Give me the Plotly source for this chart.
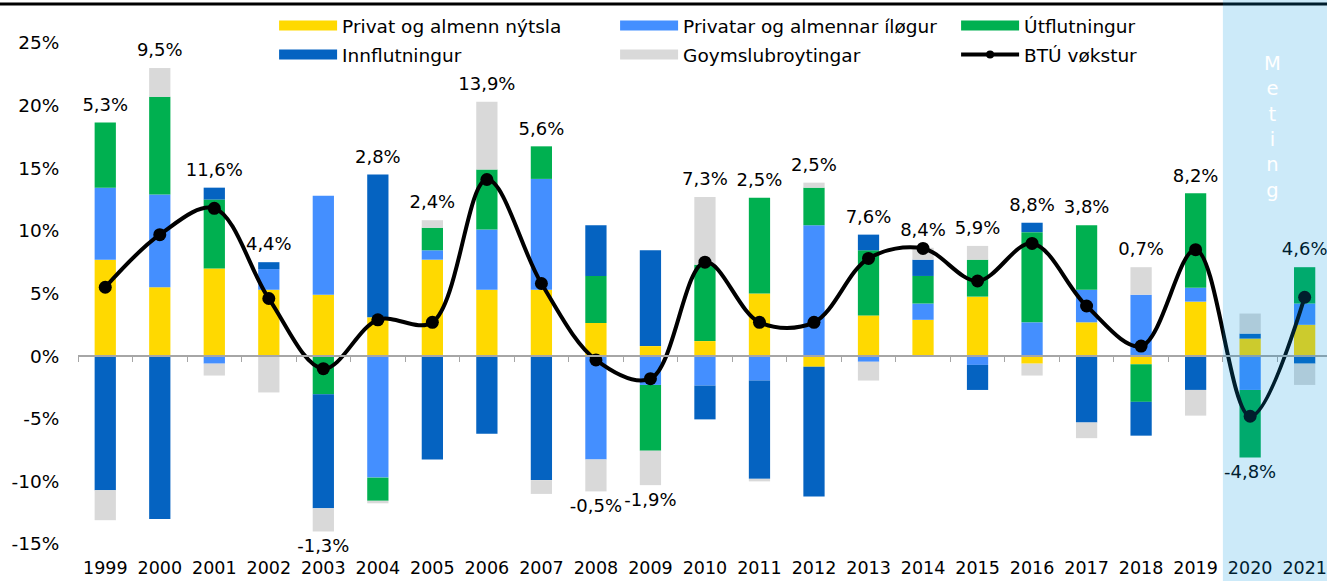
import plotly.graph_objects as go

# ---------------- data ----------------
years = [str(y) for y in range(1999, 2022)]

privat_nytsla = [7.7, 5.5, 7.0, 5.3, 4.9, 3.1, 7.7, 5.3, 5.3, 2.65, 0.8, 1.2,
                 5.0, -0.85, 3.25, 2.9, 4.75, -0.6, 2.7, -0.65, 4.35, 1.4, 2.5]
privat_ilogur = [5.75, 7.4, -0.6, 1.65, 7.9, -9.7, 0.75, 4.8, 8.85, -8.25, -2.3, -2.35,
                 -1.95, 10.45, -0.45, 1.3, -0.7, 2.7, 2.6, 4.9, 1.1, -2.7, 1.7]
utflutningur = [5.2, 7.8, 5.5, 0.0, -3.05, -1.85, 1.8, 4.8, 2.6, 3.75, -5.25, 6.1,
                7.65, 3.0, 5.2, 2.2, 2.95, 7.2, 5.15, -3.0, 7.55, -5.4, 2.9]
innflutningur = [-10.7, -13.0, 0.95, 0.55, -9.1, 11.4, -8.25, -6.2, -9.9, 4.05, 7.65, -2.7,
                 -7.85, -10.35, 1.25, 1.3, -2.0, 0.75, -5.3, -2.7, -2.7, 0.4, -0.6]
goymslubroytingar = [-2.4, 2.3, -0.95, -2.9, -1.85, -0.2, 0.6, 5.4, -1.1, -2.55, -2.75, 5.4,
                     -0.2, 0.4, -1.5, 0.95, 1.1, -0.95, -1.25, 2.2, -2.05, 1.6, -1.7]
btu_vokstur = [5.5, 9.7, 11.8, 4.6, -1.0, 2.9, 2.7, 14.1, 5.8, -0.3, -1.8, 7.5,
               2.7, 2.7, 7.8, 8.6, 6.0, 9.0, 4.0, 0.8, 8.5, -4.8, 4.7]
btu_label = [5.3, 9.5, 11.6, 4.4, -1.3, 2.8, 2.4, 13.9, 5.6, -0.5, -1.9, 7.3,
             2.5, 2.5, 7.6, 8.4, 5.9, 8.8, 3.8, 0.7, 8.2, -4.8, 4.6]

series_names = ["Privat og almenn nýtsla", "Privatar og almennar íløgur", "Útflutningur",
                "Innflutningur", "Goymslubroytingar"]
line_name = "BTÚ vøkstur"
y_ticks = [-15, -10, -5, 0, 5, 10, 15, 20, 25]
forecast_text = "Meting"

# ---------------- style ----------------
colors = ["#FFD900", "#448FFF", "#00B050", "#0563C1", "#D9D9D9"]
FONT = "DejaVu Sans"
FS = 17.5

series_values = [privat_nytsla, privat_ilogur, utflutningur, innflutningur, goymslubroytingar]
legend_of = ["legend", "legend", "legend", "legend2", "legend2"]

fig = go.Figure()

for name, vals, col, lg in zip(series_names, series_values, colors, legend_of):
    fig.add_trace(go.Bar(
        x=years, y=vals, name=name, legendgroup=name, legend=lg,
        marker=dict(color=col, line=dict(width=0)), width=0.39, showlegend=False,
    ))

fig.add_trace(go.Scatter(
    x=years, y=btu_vokstur, name=line_name, legendgroup=line_name, legend="legend2",
    mode="lines+markers", showlegend=False,
    line=dict(color="black", width=4, shape="spline", smoothing=1),
    marker=dict(size=13, color="black"),
))

# data labels: above the positive stack or below the negative stack
pos_top = [sum(v for v in col if v > 0) for col in zip(*series_values)]
neg_bot = [sum(v for v in col if v < 0) for col in zip(*series_values)]
label_y = [t if v >= 0 else b for v, t, b in zip(btu_label, pos_top, neg_bot)]
label_pos = ["top center" if v >= 0 else "bottom center" for v in btu_label]
label_txt = [f"{v:.1f}".replace(".", ",") + "%" for v in btu_label]

fig.add_trace(go.Scatter(
    x=years, y=label_y, mode="markers+text", text=label_txt, textposition=label_pos,
    marker=dict(size=10, color="rgba(0,0,0,0)"),
    textfont=dict(family=FONT, size=18, color="black"),
    xaxis="x2", yaxis="y", showlegend=False, cliponaxis=False, hoverinfo="skip",
))

# legend entries (wide swatches like the original)
for name, col, lg in zip(series_names, colors, legend_of):
    fig.add_trace(go.Scatter(
        x=[None], y=[None], mode="lines", name=name, legendgroup=name, legend=lg,
        line=dict(color=col, width=10), showlegend=True,
    ))
fig.add_trace(go.Scatter(
    x=[None], y=[None], mode="lines+markers", name=line_name, legendgroup=line_name,
    legend="legend2", line=dict(color="black", width=4), marker=dict(size=8, color="black"),
    showlegend=True,
))

leg_common = dict(
    orientation="h", xanchor="left", yanchor="top", x=0.157,
    entrywidth=268, entrywidthmode="pixels", itemwidth=58,
    font=dict(family=FONT, size=18.5, color="black"), bgcolor="rgba(0,0,0,0)",
    traceorder="normal", borderwidth=0,
)

fig.update_layout(
    width=1327, height=581,
    margin=dict(l=78, r=0, t=43, b=37),
    paper_bgcolor="white", plot_bgcolor="white",
    font=dict(family=FONT, size=FS, color="black"),
    barmode="relative",
    legend=dict(**leg_common, y=1.072),
    legend2=dict(**leg_common, y=1.014),
    xaxis=dict(
        type="category", range=[-0.5, 22.41], showgrid=False, zeroline=False,
        showline=False, ticks="outside", ticklen=8, tickcolor="rgba(0,0,0,0)",
        tickfont=dict(family=FONT, size=FS, color="black"),
    ),
    xaxis2=dict(
        type="category", matches="x", overlaying="x", anchor="free", position=0.375,
        side="bottom", showgrid=False, zeroline=False, showline=True,
        linecolor="#A6A6A6", linewidth=2, ticks="outside", ticklen=5, tickwidth=1,
        tickcolor="#A6A6A6", tickson="boundaries", showticklabels=False,
    ),
    yaxis=dict(
        range=[-15, 25], tickvals=y_ticks, ticktext=[f"{v}%" for v in y_ticks],
        showgrid=False, zeroline=False, showline=False,
        ticks="outside", ticklen=14, tickcolor="rgba(0,0,0,0)",
        tickfont=dict(family=FONT, size=18.5, color="black"),
    ),
    shapes=[
        dict(type="rect", xref="paper", yref="paper", x0=-0.0625, x1=1.0,
             y0=1.0748, y1=1.0808, fillcolor="black", line=dict(width=0), layer="above"),
        dict(type="rect", xref="x", yref="paper", x0=20.5, x1=22.6, y0=-0.08, y1=1.09,
             fillcolor="rgba(0,150,225,0.2)", line=dict(width=0), layer="above"),
    ],
    annotations=[
        dict(text="<br>".join(forecast_text), xref="paper", yref="paper",
             x=0.956, y=0.832, xanchor="center", yanchor="middle", showarrow=False,
             font=dict(family=FONT, size=19.5, color="white"), align="center"),
    ],
)

fig.write_html("out.html", config={"displayModeBar": False},
               post_script="document.body.style.margin='0';")
